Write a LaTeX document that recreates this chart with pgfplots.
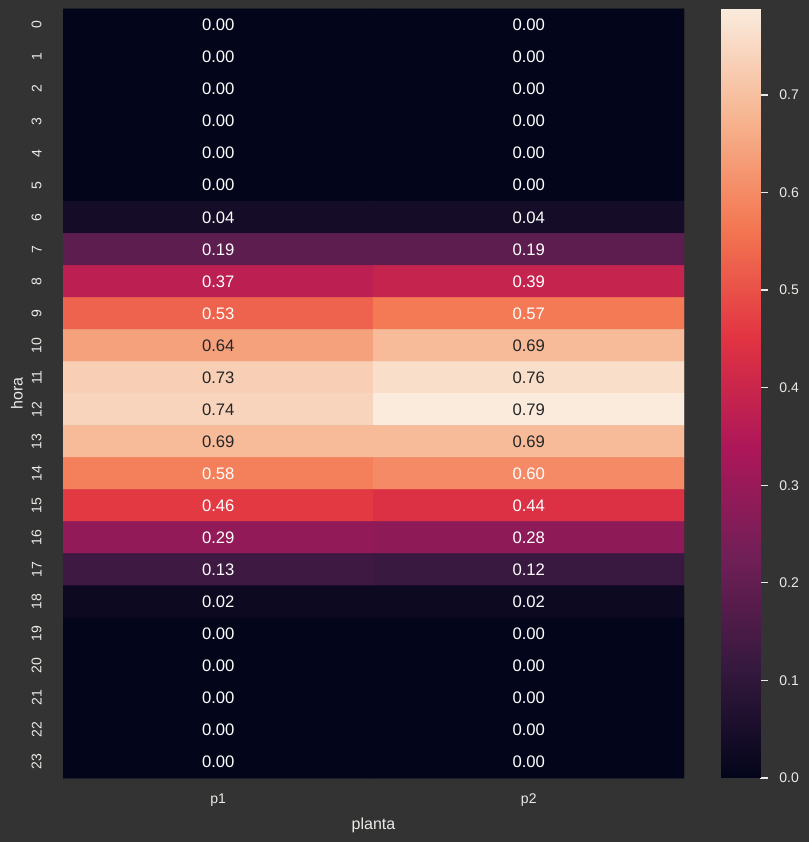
\documentclass[border=0pt]{standalone}
\usepackage{pgfplots}
\pgfplotsset{compat=1.18}
\usepackage{pgfplotstable}
\usepackage{fontspec}
\setmainfont{Liberation Sans}
\definecolor{bg}{RGB}{51,51,51}
\definecolor{fg}{RGB}{234,234,230}
\definecolor{dk}{RGB}{38,38,38}
\pgfplotsset{colormap={rocket}{rgb255(0)=(3,5,26) rgb255(1)=(53,25,62) rgb255(2)=(112,31,87) rgb255(3)=(173,23,89) rgb255(4)=(225,51,66) rgb255(5)=(243,118,81) rgb255(6)=(246,180,143) rgb255(7)=(250,235,221)}}

\pgfplotstableread{
x y v t
0 0 0 0
1 0 0 0
0 1 0 0
1 1 0 0
0 2 0 0
1 2 0 0
0 3 0 0
1 3 0 0
0 4 0 0
1 4 0 0
0 5 0 0
1 5 0 0
0 6 0.04 0
1 6 0.04 0
0 7 0.19 0
1 7 0.19 0
0 8 0.37 0
1 8 0.39 0
0 9 0.53 0
1 9 0.57 0
0 10 0.64 1
1 10 0.69 1
0 11 0.73 1
1 11 0.76 1
0 12 0.74 1
1 12 0.788 1
0 13 0.69 1
1 13 0.69 1
0 14 0.58 0
1 14 0.60 0
0 15 0.46 0
1 15 0.44 0
0 16 0.29 0
1 16 0.28 0
0 17 0.13 0
1 17 0.12 0
0 18 0.02 0
1 18 0.02 0
0 19 0 0
1 19 0 0
0 20 0 0
1 20 0 0
0 21 0 0
1 21 0 0
0 22 0 0
1 22 0 0
0 23 0 0
1 23 0 0
}\data

% colour scale stops (colormap stop positions over 0..0.788)
\pgfplotstableread{
x y
0 0
1 0
0 0.112571
1 0.112571
0 0.225143
1 0.225143
0 0.337714
1 0.337714
0 0.450286
1 0.450286
0 0.562857
1 0.562857
0 0.675429
1 0.675429
0 0.788
1 0.788
}\cbar

\begin{document}
\begin{tikzpicture}
\path[use as bounding box, fill=bg] (0,0) rectangle (606.75pt,631.5pt);
\begin{axis}[
  at={(47.25pt,48pt)}, anchor=south west,
  scale only axis, width=465.75pt, height=576.75pt,
  xmin=-0.5, xmax=1.5, ymin=-0.5, ymax=23.5,
  y dir=reverse, enlargelimits=false,
  axis line style={draw=none}, major tick length=0pt,
  xtick={0,1}, xticklabels={p1,p2},
  ytick={0,1,...,23},
  tick label style={fg, font=\fontsize{10.5}{12}\selectfont},
  /pgf/number format/assume math mode=true,
  yticklabel style={rotate=90, anchor=south},
  yticklabel shift=12.5pt,
  xticklabel shift=8pt,
  every axis y label/.style={at={(axis description cs:-0.0741,0.5)}, anchor=center, rotate=90, fg, font=\fontsize{12}{14}\selectfont},
  every axis x label/.style={at={(axis description cs:0.5,-0.0611)}, anchor=center, fg, font=\fontsize{12}{14}\selectfont},
  xlabel={planta}, ylabel={hora},
  colormap name=rocket,
  point meta min=0, point meta max=0.788,
  unbounded coords=discard,
]
\addplot[matrix plot*, mesh/cols=2, point meta=explicit] table[x=x,y=y,meta=v]{\data};
\addplot[draw=none, mark=none, point meta=explicit,
  x filter/.expression={\thisrow{t}==1 ? nan : x},
  nodes near coords={\pgfmathprintnumber[fixed,precision=2,fixed zerofill,assume math mode=true]{\pgfplotspointmeta}},
  nodes near coords style={anchor=center, text=white, font=\fontsize{12.5}{14}\selectfont}]
  table[x=x,y=y,meta=v]{\data};
\addplot[draw=none, mark=none, point meta=explicit,
  x filter/.expression={\thisrow{t}==1 ? x : nan},
  nodes near coords={\pgfmathprintnumber[fixed,precision=2,fixed zerofill,assume math mode=true]{\pgfplotspointmeta}},
  nodes near coords style={anchor=center, text=dk, font=\fontsize{12.5}{14}\selectfont}]
  table[x=x,y=y,meta=v]{\data};
\end{axis}
\begin{axis}[
  at={(540.75pt,48pt)}, anchor=south west,
  scale only axis, width=29.25pt, height=576.75pt,
  xmin=0, xmax=1, ymin=0, ymax=0.788, enlargelimits=false,
  axis line style={draw=none},
  xtick=\empty,
  ytick={0,0.1,...,0.7}, ytick pos=right, yticklabel pos=right,
  tick align=outside, major tick length=6pt,
  major tick style={fg, line width=1pt},
  yticklabel style={fg, font=\fontsize{10.5}{12}\selectfont, /pgf/number format/fixed, /pgf/number format/precision=1, /pgf/number format/fixed zerofill, /pgf/number format/assume math mode=true},
  yticklabel shift=5pt,
  colormap name=rocket,
  point meta min=0, point meta max=0.788,
]
\addplot[surf, shader=interp, mesh/cols=2, point meta=y] table[x=x,y=y]{\cbar};
\end{axis}
\end{tikzpicture}
\end{document}
